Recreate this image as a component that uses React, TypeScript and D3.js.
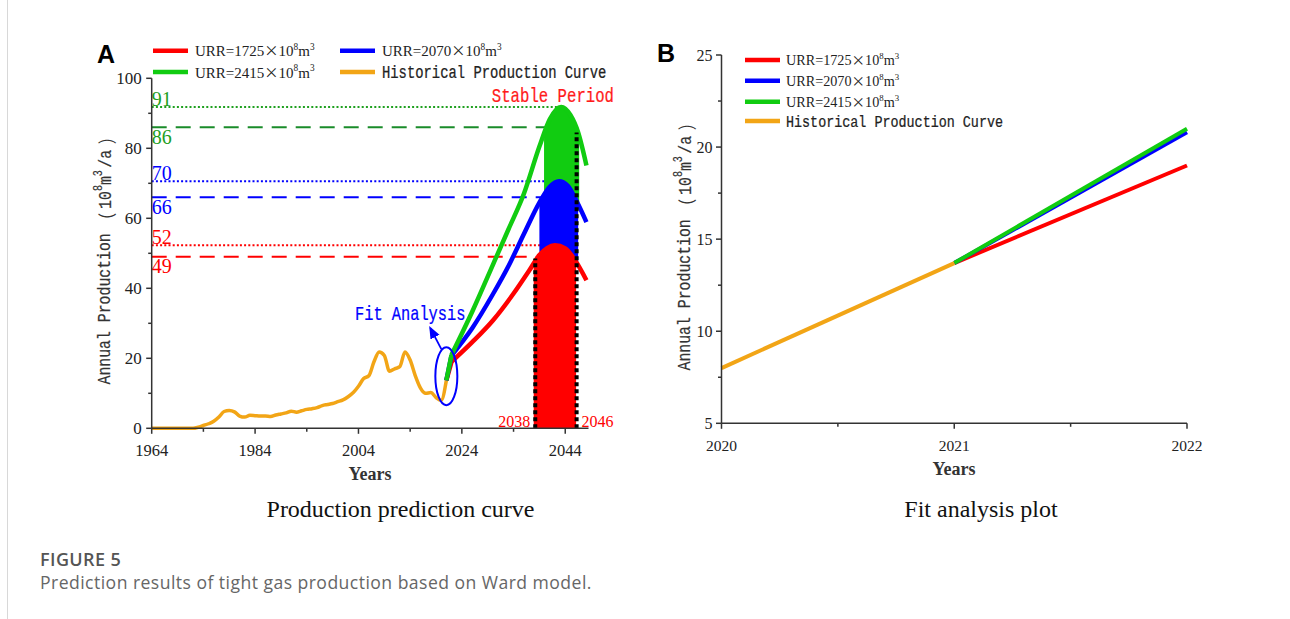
import React from "react";
import * as d3 from "d3";

// ---------- DATA ----------
const historical: [number, number][] = [
  [1964, 0], [1968, 0], [1972, 0], [1973, 0.3], [1974, 0.8], [1975, 1.3], [1976, 2.0],
  [1977, 3.2], [1978, 4.8], [1979, 5.1], [1980, 4.7], [1981, 3.5], [1982, 3.2], [1983, 3.7],
  [1984, 3.6], [1985, 3.5], [1986, 3.5], [1987, 3.4], [1988, 3.8], [1989, 4.1], [1990, 4.4],
  [1991, 4.9], [1992, 4.6], [1993, 5.0], [1994, 5.4], [1995, 5.6], [1996, 5.9], [1997, 6.5],
  [1998, 6.8], [1999, 7.1], [2000, 7.6], [2001, 8.1], [2002, 9.0], [2003, 10.2], [2004, 12.0],
  [2005, 14.2], [2006, 15.0], [2007, 19.0], [2008, 21.8], [2009, 20.8], [2010, 16.3],
  [2011, 17.0], [2012, 17.6], [2013, 21.8], [2014, 19.5], [2015, 15.0], [2016, 11.5],
  [2017, 10.0], [2018, 10.2], [2019, 8.8], [2020, 8.0], [2021, 13.7],
];

const forecastRed: [number, number][] = [
  [2021, 13.7], [2022, 19.0], [2026, 24.6], [2030, 30.8], [2034, 38.5], [2037, 45.0],
  [2039, 49.5], [2040.5, 51.5], [2042, 52.3], [2044, 51.4], [2046, 47.8], [2048.1, 42.3],
];
const forecastBlue: [number, number][] = [
  [2021, 13.7], [2022, 20.8], [2026, 28.6], [2030, 38.3], [2033, 46.3], [2036, 55.5],
  [2039, 64.5], [2041, 69.0], [2042.8, 70.6], [2044.5, 69.3], [2046.5, 64.0], [2048.1, 58.9],
];
const forecastGreen: [number, number][] = [
  [2021, 13.7], [2022, 21.0], [2026, 33.3], [2030, 46.7], [2033, 56.8], [2036, 67.0],
  [2039, 80.5], [2041, 88.3], [2043.2, 91.8], [2045, 89.5], [2046.5, 84.5], [2048.1, 75.1],
];

const urrValues = ["1725", "2070", "2415"];
const seriesColors = ["#ff0000", "#0000ff", "#11cc11"];
const refColors = ["#ff0000", "#0000ff", "#1fa01f"];
const histColor = "#f2a516";

const peakValues = [52.3, 70.6, 91.8];
const peakLabels = ["52", "70", "91"];
const peakEnds = [2042.0, 2042.8, 2043.2];
const stableValues = [49, 66, 86];
const stableLabels = ["49", "66", "86"];
const stableEnds = [2038.6, 2039.3, 2040.1];
const fillRanges: [number, number][] = [[2037.9, 2046.1], [2039, 2046.5], [2039.9, 2046.7]];
const stableMarkers: [number, number][] = [[2038.2, 48.5], [2046.2, 84.5]];
const stableMarkerLabels = ["2038", "2046"];

const xTicksA = [1964, 1984, 2004, 2024, 2044];
const xMinorA = [1974, 1994, 2014, 2034];
const yTicksA = [0, 20, 40, 60, 80, 100];
const yMinorA = [10, 30, 50, 70, 90];
const xTicksB = [2020, 2021, 2022];
const xMinorB = [2020.5, 2021.5];
const yTicksB = [5, 10, 15, 20, 25];
const yMinorB = [7.5, 12.5, 17.5, 22.5];

// ---------- STYLE ----------
const SERIF = "'Liberation Serif', 'Times New Roman', serif";
const MONO = "'Liberation Mono', 'DejaVu Sans Mono', monospace";
const CJK = "'Noto Sans CJK SC', sans-serif";
const AXIS = "#333";
const MONO_K = 2.1; // font size relative to character advance
const MONO_SX = 1 / (0.6 * MONO_K);

function MonoText({
  x, y, adv, fill, anchor = "start", children,
}: { x: number; y: number; adv: number; fill: string; anchor?: string; children: React.ReactNode }) {
  return (
    <text
      transform={`translate(${x},${y}) scale(${MONO_SX},1)`}
      textAnchor={anchor}
      fontFamily={MONO}
      fontSize={adv * MONO_K}
      fill={fill}
      stroke={fill}
      strokeWidth={0.25}
    >
      {children}
    </text>
  );
}

function URRLabel({ x, y, value, size }: { x: number; y: number; value: string; size: number }) {
  const s = size * 0.62;
  const d = size * 0.42;
  return (
    <text x={x} y={y} fontFamily={SERIF} fontSize={size} fill="#222">
      {`URR=${value}`}
      <tspan fontFamily={CJK} fontSize={size * 0.95}>×</tspan>
      10
      <tspan dy={-d} fontSize={s}>8</tspan>
      <tspan dy={d}>m</tspan>
      <tspan dy={-d} fontSize={s}>3</tspan>
    </text>
  );
}

function YLabel({ x, y, adv }: { x: number; y: number; adv: number }) {
  const size = adv * MONO_K;
  const d = size * 0.38;
  const s = size * 0.68;
  return (
    <text
      transform={`translate(${x},${y}) rotate(-90) scale(${MONO_SX},1)`}
      textAnchor="middle"
      dominantBaseline="central"
      fontFamily={MONO}
      fontSize={size}
      fill="#333"
      stroke="#333"
      strokeWidth={0.2}
    >
      Annual Production
      <tspan dx={7} fontFamily={CJK} strokeWidth={0}>（</tspan>
      <tspan dx={5}>10</tspan>
      <tspan dy={-d} fontSize={s}>8</tspan>
      <tspan dy={d}>m</tspan>
      <tspan dy={-d} fontSize={s}>3</tspan>
      <tspan dy={d} dx={3}>/a</tspan>
      <tspan dx={7} fontFamily={CJK} strokeWidth={0}>）</tspan>
    </text>
  );
}

export default function App() {
  // Panel A scales
  const xA = d3.scaleLinear().domain([1964, 2048.5]).range([151.7, 588.5]);
  const yA = d3.scaleLinear().domain([0, 100]).range([428.3, 78.3]);
  // Panel B scales
  const xB = d3.scaleLinear().domain([2020, 2022]).range([721.5, 1187]);
  const yB = d3.scaleLinear().domain([5, 25]).range([423.3, 55]);

  const forecasts = [forecastRed, forecastBlue, forecastGreen];

  const lineA = d3
    .line<[number, number]>()
    .x((d) => xA(d[0]))
    .y((d) => yA(d[1]))
    .curve(d3.curveMonotoneX);
  const lineALinear = d3
    .line<[number, number]>()
    .x((d) => xA(d[0]))
    .y((d) => yA(d[1]));
  const areaA = d3
    .area<[number, number]>()
    .x((d) => xA(d[0]))
    .y0(yA(0))
    .y1((d) => yA(d[1]))
    .curve(d3.curveMonotoneX);
  const areaAbove = d3
    .area<[number, number]>()
    .x((d) => xA(d[0]))
    .y0(0)
    .y1((d) => yA(d[1]))
    .curve(d3.curveMonotoneX);
  const lineB = d3
    .line<[number, number]>()
    .x((d) => xB(d[0]))
    .y((d) => yB(d[1]));

  // forecast path in A: straight start segment (fit year) then smooth curve
  const forecastPath = (s: [number, number][]) =>
    (lineALinear(s.slice(0, 2)) || "") + (lineA(s.slice(1)) || "");

  const histB = historical.filter((d) => d[0] >= 2020);
  const ellCx = xA(2021);
  const ellCy = yA(14.9);

  return (
    <svg
      width={1290}
      height={619}
      style={{ position: "absolute", left: 0, top: 0, background: "#fff", display: "block" }}
    >
      <defs>
        {fillRanges.map((r, i) => (
          <clipPath id={`fill-clip-${i}`} key={i}>
            <rect x={xA(r[0])} y={0} width={xA(r[1]) - xA(r[0])} height={619} />
          </clipPath>
        ))}
        <clipPath id="above-0">
          <path d={areaAbove(forecastRed.slice(1)) || ""} />
        </clipPath>
        <clipPath id="above-1">
          <path d={areaAbove(forecastBlue.slice(1)) || ""} />
        </clipPath>
        <marker id="arrow" viewBox="0 0 10 10" refX="8" refY="5" markerWidth="7" markerHeight="7" orient="auto">
          <path d="M0,1 L10,5 L0,9 z" fill="#0000ff" />
        </marker>
      </defs>

      {/* left page border */}
      <line x1={7.5} x2={7.5} y1={0} y2={619} stroke="#d8d8d8" strokeWidth={1} />

      {/* ================= PANEL A ================= */}
      <text x={97} y={62.5} fontFamily="'Liberation Sans', Arial, sans-serif" fontWeight="bold" fontSize={25} fill="#000">
        A
      </text>

      {/* legend A */}
      {[0, 1, 2].map((i) => {
        const col = i === 1 ? 1 : 0;
        const row = i === 2 ? 1 : 0;
        const lx = col === 0 ? 153 : 340;
        const ly = row === 0 ? 50.7 : 72;
        return (
          <g key={i}>
            <line x1={lx} x2={lx + 35} y1={ly} y2={ly} stroke={seriesColors[i]} strokeWidth={4.5} />
            <URRLabel x={lx + 42} y={ly + 5.5} value={urrValues[i]} size={15} />
          </g>
        );
      })}
      <line x1={340} x2={375} y1={72} y2={72} stroke={histColor} strokeWidth={4.5} />
      <MonoText x={382} y={77.5} adv={8.31} fill="#222">
        Historical Production Curve
      </MonoText>

      {/* reference lines */}
      {peakValues.map((v, i) => (
        <g key={`pk${i}`}>
          <line
            x1={xA(1964)}
            x2={xA(peakEnds[i])}
            y1={yA(v)}
            y2={yA(v)}
            stroke={refColors[i]}
            strokeWidth={2}
            strokeDasharray="2 2.2"
          />
          <text x={xA(1964)} y={yA(v) - 1} fontFamily={SERIF} fontSize={20} fill={refColors[i]}>
            {peakLabels[i]}
          </text>
        </g>
      ))}
      {stableValues.map((v, i) => (
        <g key={`st${i}`}>
          <line
            x1={xA(1964)}
            x2={xA(stableEnds[i])}
            y1={yA(v)}
            y2={yA(v)}
            stroke={i === 2 ? "#1a8c2a" : refColors[i]}
            strokeWidth={2}
            strokeDasharray="15 9"
          />
          <text x={xA(1964)} y={yA(v) + 16.5} fontFamily={SERIF} fontSize={20} fill={refColors[i]}>
            {stableLabels[i]}
          </text>
        </g>
      ))}

      {/* stable period fills: red under red curve, blue between red & blue, green between blue & green */}
      <g clipPath="url(#fill-clip-2)">
        <path d={areaA(forecastGreen.slice(1)) || ""} fill={seriesColors[2]} clipPath="url(#above-1)" />
      </g>
      <g clipPath="url(#fill-clip-1)">
        <path d={areaA(forecastBlue.slice(1)) || ""} fill={seriesColors[1]} clipPath="url(#above-0)" />
      </g>
      <g clipPath="url(#fill-clip-0)">
        <path d={areaA(forecastRed.slice(1)) || ""} fill={seriesColors[0]} />
      </g>

      {/* historical curve */}
      <path d={lineA(historical) || ""} fill="none" stroke={histColor} strokeWidth={3.5} strokeLinejoin="round" />

      {/* forecast curves */}
      {[0, 1, 2].map((i) => (
        <path
          key={`fc${i}`}
          d={forecastPath(forecasts[i])}
          fill="none"
          stroke={seriesColors[i]}
          strokeWidth={4.5}
          strokeLinecap="butt"
          strokeLinejoin="round"
        />
      ))}

      {/* stable period markers */}
      {stableMarkers.map((m, i) => (
        <g key={`sm${i}`}>
          <line
            x1={xA(m[0])}
            x2={xA(m[0])}
            y1={yA(0)}
            y2={yA(m[1])}
            stroke="#000"
            strokeWidth={4}
            strokeDasharray="4 3"
          />
          <text
            x={i === 0 ? xA(m[0]) - 5 : xA(m[0]) + 5}
            y={426.5}
            textAnchor={i === 0 ? "end" : "start"}
            fontFamily={SERIF}
            fontSize={16}
            fill="#ff0000"
          >
            {stableMarkerLabels[i]}
          </text>
        </g>
      ))}
      <MonoText x={614} y={101.5} adv={9.4} fill="#ff1a1a" anchor="end">
        Stable Period
      </MonoText>

      {/* fit analysis annotation */}
      <ellipse cx={ellCx} cy={ellCy} rx={11} ry={29} fill="none" stroke="#0000ff" strokeWidth={2} />
      <line
        x1={ellCx - 5}
        y1={ellCy - 27}
        x2={ellCx - 16}
        y2={ellCy - 48}
        stroke="#0000ff"
        strokeWidth={1.8}
        markerEnd="url(#arrow)"
      />
      <MonoText x={355} y={320} adv={9.2} fill="#0000ff">
        Fit Analysis
      </MonoText>

      {/* axes A */}
      <g stroke={AXIS} strokeWidth={1.5} fill="none">
        <line x1={xA(1964)} x2={xA(2048.5)} y1={yA(0)} y2={yA(0)} />
        <line x1={xA(1964)} x2={xA(1964)} y1={yA(0)} y2={yA(100)} />
        {xTicksA.map((t) => (
          <line key={`xa${t}`} x1={xA(t)} x2={xA(t)} y1={yA(0)} y2={yA(0) + 5.5} />
        ))}
        {xMinorA.map((t) => (
          <line key={`xam${t}`} x1={xA(t)} x2={xA(t)} y1={yA(0)} y2={yA(0) + 3.5} />
        ))}
        {yTicksA.map((t) => (
          <line key={`ya${t}`} x1={xA(1964) - 5.5} x2={xA(1964)} y1={yA(t)} y2={yA(t)} />
        ))}
        {yMinorA.map((t) => (
          <line key={`yam${t}`} x1={xA(1964) - 3.5} x2={xA(1964)} y1={yA(t)} y2={yA(t)} />
        ))}
      </g>
      {xTicksA.map((t) => (
        <text key={`xal${t}`} x={xA(t)} y={455.5} textAnchor="middle" fontFamily={SERIF} fontSize={16.5} fill="#222">
          {t}
        </text>
      ))}
      {yTicksA.map((t) => (
        <text
          key={`yal${t}`}
          x={xA(1964) - 10}
          y={yA(t)}
          dy="0.35em"
          textAnchor="end"
          fontFamily={SERIF}
          fontSize={17}
          fill="#222"
        >
          {t}
        </text>
      ))}
      <text x={370} y={480} textAnchor="middle" fontFamily={SERIF} fontWeight="bold" fontSize={18} fill="#333">
        Years
      </text>
      <YLabel x={105} y={257} adv={8.9} />
      <text x={400.5} y={517} textAnchor="middle" fontFamily={SERIF} fontSize={24} fill="#111">
        Production prediction curve
      </text>

      {/* ================= PANEL B ================= */}
      <text x={657} y={62} fontFamily="'Liberation Sans', Arial, sans-serif" fontWeight="bold" fontSize={25} fill="#000">
        B
      </text>

      {/* lines B */}
      {[0, 1, 2].map((i) => (
        <path
          key={`lb${i}`}
          d={lineB(forecasts[i].slice(0, 2)) || ""}
          fill="none"
          stroke={seriesColors[i]}
          strokeWidth={4}
        />
      ))}
      <path d={lineB(histB) || ""} fill="none" stroke={histColor} strokeWidth={4} />

      {/* legend B */}
      {[0, 1, 2].map((i) => {
        const ly = [60, 80.7, 101.7][i];
        return (
          <g key={`lgb${i}`}>
            <line x1={745} x2={780} y1={ly} y2={ly} stroke={seriesColors[i]} strokeWidth={4.5} />
            <URRLabel x={786} y={ly + 5.2} value={urrValues[i]} size={14.2} />
          </g>
        );
      })}
      <line x1={745} x2={780} y1={121} y2={121} stroke={histColor} strokeWidth={4.5} />
      <MonoText x={786} y={126.5} adv={8.04} fill="#222">
        Historical Production Curve
      </MonoText>

      {/* axes B */}
      <g stroke={AXIS} strokeWidth={1.5} fill="none">
        <line x1={xB(2020)} x2={xB(2022)} y1={yB(5)} y2={yB(5)} />
        <line x1={xB(2020)} x2={xB(2020)} y1={yB(5)} y2={yB(25)} />
        {xTicksB.map((t) => (
          <line key={`xb${t}`} x1={xB(t)} x2={xB(t)} y1={yB(5)} y2={yB(5) + 5.5} />
        ))}
        {xMinorB.map((t) => (
          <line key={`xbm${t}`} x1={xB(t)} x2={xB(t)} y1={yB(5)} y2={yB(5) + 3.5} />
        ))}
        {yTicksB.map((t) => (
          <line key={`yb${t}`} x1={xB(2020) - 5.5} x2={xB(2020)} y1={yB(t)} y2={yB(t)} />
        ))}
        {yMinorB.map((t) => (
          <line key={`ybm${t}`} x1={xB(2020) - 3.5} x2={xB(2020)} y1={yB(t)} y2={yB(t)} />
        ))}
      </g>
      {xTicksB.map((t) => (
        <text key={`xbl${t}`} x={xB(t)} y={451} textAnchor="middle" fontFamily={SERIF} fontSize={15.5} fill="#222">
          {t}
        </text>
      ))}
      {yTicksB.map((t) => (
        <text
          key={`ybl${t}`}
          x={xB(2020) - 9}
          y={yB(t)}
          dy="0.35em"
          textAnchor="end"
          fontFamily={SERIF}
          fontSize={16}
          fill="#222"
        >
          {t}
        </text>
      ))}
      <text x={954} y={475} textAnchor="middle" fontFamily={SERIF} fontWeight="bold" fontSize={18} fill="#333">
        Years
      </text>
      <YLabel x={685} y={243} adv={8.9} />
      <text x={981} y={517} textAnchor="middle" fontFamily={SERIF} fontSize={24} fill="#111">
        Fit analysis plot
      </text>

      {/* ================= CAPTION ================= */}
      <text x={40} y={566} fontFamily="'Open Sans', sans-serif" fontWeight={600} fontSize={18} letterSpacing={0.4} fill="#555">
        FIGURE 5
      </text>
      <text x={40} y={589} fontFamily="'Open Sans', sans-serif" fontSize={17.6} letterSpacing={0.45} fill="#666">
        Prediction results of tight gas production based on Ward model.
      </text>
    </svg>
  );
}
